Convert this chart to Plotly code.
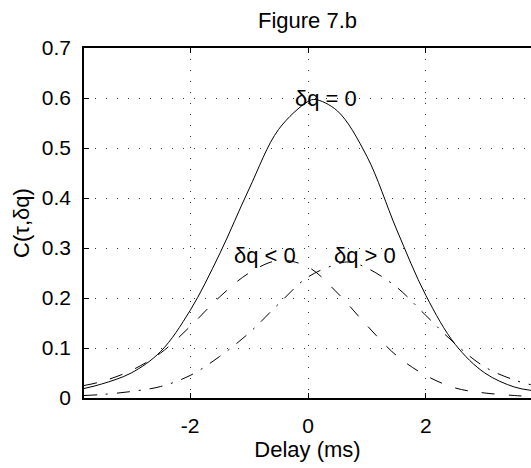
import plotly.graph_objects as go

# Delay (ms)
delay = [-3.8, -3.5, -3.0, -2.5, -2.0, -1.5, -1.0, -0.5, 0.0, 0.12, 0.5, 1.0, 1.5, 2.0, 2.5, 3.0, 3.5, 3.8]
# C(tau, dq) for dq = 0 (solid)
c_zero = [0.019, 0.028, 0.050, 0.093, 0.175, 0.288, 0.418, 0.537, 0.593, 0.597, 0.574, 0.483, 0.338, 0.205, 0.107, 0.050, 0.022, 0.015]

delay_neg = [-3.8, -3.5, -3.0, -2.5, -2.0, -1.5, -1.0, -0.5, 0.0, 0.5, 1.0, 1.5, 2.0, 2.5, 3.0, 3.5, 3.8]
# dq < 0 (dashed)
c_neg = [0.025, 0.033, 0.055, 0.090, 0.143, 0.202, 0.250, 0.275, 0.262, 0.210, 0.145, 0.085, 0.045, 0.020, 0.010, 0.005, 0.003]

delay_pos = [-3.8, -3.5, -3.0, -2.5, -2.0, -1.5, -1.0, -0.5, 0.0, 0.5, 0.7, 1.0, 1.5, 2.0, 2.5, 3.0, 3.5, 3.8]
# dq > 0 (dash-dot)
c_pos = [0.005, 0.007, 0.013, 0.023, 0.045, 0.083, 0.130, 0.188, 0.242, 0.268, 0.272, 0.260, 0.222, 0.165, 0.108, 0.062, 0.036, 0.026]

x_ticks = [-2, 0, 2]
x_ticktext = ["-2", "0", "2"]
y_ticks = [0, 0.1, 0.2, 0.3, 0.4, 0.5, 0.6, 0.7]
y_ticktext = ["0", "0.1", "0.2", "0.3", "0.4", "0.5", "0.6", "0.7"]

labels = ["δq = 0", "δq < 0", "δq > 0"]
label_x = [-0.26, -1.29, 0.40]
label_y = [0.600, 0.285, 0.285]

FONT = "Liberation Sans, Arial, Helvetica, sans-serif"

fig = go.Figure()
fig.add_trace(go.Scatter(x=delay, y=c_zero, mode="lines", line=dict(color="black", width=1, shape="spline", smoothing=1.0), showlegend=False))
fig.add_trace(go.Scatter(x=delay_neg, y=c_neg, mode="lines", line=dict(color="black", width=1, dash="13px,14px", shape="spline", smoothing=1.0), showlegend=False))
fig.add_trace(go.Scatter(x=delay_pos, y=c_pos, mode="lines", line=dict(color="black", width=1, dash="13px,9px,2px,9px", shape="spline", smoothing=1.0), showlegend=False))

for t, xx, yy in zip(labels, label_x, label_y):
    fig.add_annotation(x=xx, y=yy, text=t, showarrow=False, xanchor="left", yanchor="middle",
                       font=dict(family=FONT, size=22, color="black"))

grid = dict(showgrid=True, gridcolor="#333", gridwidth=1, griddash="1px,10px")

fig.update_layout(
    width=531, height=468,
    margin=dict(l=84, r=0, t=48, b=70),
    paper_bgcolor="white", plot_bgcolor="white",
    font=dict(family=FONT, size=21, color="black"),
    title=dict(text="Figure 7.b", x=(84 + 531) / 2 / 531, xanchor="center", y=1 - 20 / 468, yanchor="middle",
               font=dict(family=FONT, size=22, color="black")),
    xaxis=dict(range=[-3.8, 3.783], tickvals=x_ticks, ticktext=x_ticktext, ticks="inside", ticklen=5,
               tickwidth=1, tickcolor="black", showline=True, linecolor="black", linewidth=1.5,
               mirror="ticks", zeroline=False, ticklabelstandoff=8,
               title=dict(text="Delay (ms)", standoff=6, font=dict(family=FONT, size=22)), **grid),
    yaxis=dict(range=[0, 0.7], tickvals=y_ticks, ticktext=y_ticktext, ticks="inside", ticklen=5,
               tickwidth=1, tickcolor="black", showline=True, linecolor="black", linewidth=1.5,
               mirror=False, zeroline=False, ticklabelstandoff=7,
               title=dict(text="C(τ,δq)", standoff=6, font=dict(family=FONT, size=22)), **grid),
    yaxis2=dict(range=[0, 0.7], overlaying="y", side="right", tickvals=y_ticks, ticks="inside", ticklen=5,
                tickwidth=1, tickcolor="black", showticklabels=False, showline=False, showgrid=False, zeroline=False),
)

fig.write_html("out.html")
